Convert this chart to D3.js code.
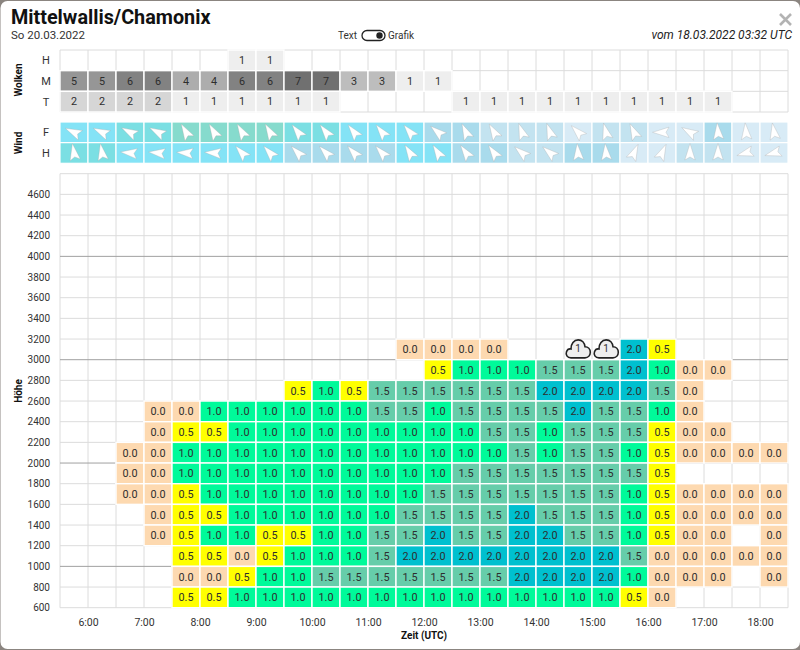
<!DOCTYPE html>
<html><head><meta charset="utf-8">
<script src="https://cdn.jsdelivr.net/npm/d3@7/dist/d3.min.js"></script>
<style>html,body{margin:0;padding:0;background:#8b8580;overflow:hidden}svg{display:block;font-family:Roboto,sans-serif}</style>
</head><body><svg id="c" width="800" height="650"></svg>
<script>
// ---- data ----
const hourTicks = [6,7,8,9,10,11,12,13,14,15,16,17,18];
const columnStarts = d3.range(26).map(i => 5.5 + i * 0.5);
const altitudeTicks = d3.range(600, 4601, 200);
const heavyAltitudes = [1000, 2000, 3000, 4000];

const cloudLevels = ["H", "M", "T"];
const cloudHigh = [0,0,0,0,0,0,1,1,0,0,0,0,0,0,0,0,0,0,0,0,0,0,0,0,0,0];
const cloudMid  = [5,5,6,6,4,4,6,6,7,7,3,3,1,1,0,0,0,0,0,0,0,0,0,0,0,0];
const cloudLow  = [2,2,2,2,1,1,1,1,1,1,0,0,0,0,1,1,1,1,1,1,1,1,1,1,0,0];

const windLevels = ["F", "H"];
const windDirF = [295,295,298,298,330,330,330,330,322,322,322,322,320,310,335,330,340,340,315,345,335,270,300,355,355,350];
const windDirH = [350,350,276,276,274,274,318,318,316,316,318,318,328,328,325,325,310,310,355,355,25,25,0,0,254,254];
const windClassF = [4,4,5,5,6,6,6,6,5,5,4,4,4,3,3,2,2,2,1,2,2,1,1,3,1,1];
const windClassH = [5,5,4,4,4,4,4,4,3,3,3,3,4,4,3,3,2,2,3,3,1,1,2,2,1,1];

// one row per altitude band (lower edge), one value per half-hour column, _ = no forecast
const _ = null;
const lift3000 = [_,_,_,_,_,_,_,_,_,_,_,_,0,0,0,0,_,_,"c","c",2,.5,_,_,_,_];
const lift2800 = [_,_,_,_,_,_,_,_,_,_,_,_,_,.5,1,1,1,1.5,1.5,1.5,2,1,0,0,_,_];
const lift2600 = [_,_,_,_,_,_,_,_,.5,1,.5,1.5,1.5,1.5,1.5,1.5,1.5,2,2,2,2,1.5,0,_,_,_];
const lift2400 = [_,_,_,0,0,1,1,1,1,1,1,1.5,1.5,1,1.5,1.5,1.5,1.5,2,1.5,1.5,1,0,_,_,_];
const lift2200 = [_,_,_,0,.5,.5,1,1,1,1,1,1,1,1,1,1.5,1.5,1,1.5,1.5,1.5,.5,0,0,_,_];
const lift2000 = [_,_,0,0,1,1,1,1,1,1,1,1,1,1,1,1,1.5,1,1.5,1.5,1,.5,0,0,0,0];
const lift1800 = [_,_,0,0,1,1,1,1,1,1,1,1,1,1,1.5,1.5,1.5,1.5,1.5,1.5,1.5,.5,_,_,_,_];
const lift1600 = [_,_,0,0,.5,1,1,1,1,1,1,1,1,1.5,1.5,1.5,1.5,1.5,1.5,1.5,1,.5,0,0,0,0];
const lift1400 = [_,_,_,0,.5,.5,1,1,1,1,1,1,1.5,1.5,1.5,1.5,2,1.5,1.5,1.5,1,.5,0,0,0,0];
const lift1200 = [_,_,_,0,.5,1,1,.5,.5,1,1,1.5,1.5,2,1.5,1.5,2,2,1.5,1.5,1,.5,0,0,_,0];
const lift1000 = [_,_,_,_,.5,.5,0,.5,1,1,1,1.5,2,2,2,2,2,2,2,2,1.5,0,0,0,0,0];
const lift800  = [_,_,_,_,0,0,.5,1,1,1.5,1.5,1.5,1.5,1.5,1.5,1.5,2,2,2,2,1,0,0,0,_,0];
const lift600  = [_,_,_,_,.5,.5,1,1,1,1,1,1,1,1,1,1,1,1,1,1,.5,0,_,_,_,_];
const liftBands = [3000,2800,2600,2400,2200,2000,1800,1600,1400,1200,1000,800,600];
const liftRows = [lift3000,lift2800,lift2600,lift2400,lift2200,lift2000,lift1800,lift1600,lift1400,lift1200,lift1000,lift800,lift600];
const cloudBaseCount = 1;

// ---- scales ----
const svg = d3.select("#c");
const x = d3.scaleLinear().domain([5.5, 18.5]).range([60, 788]);
const y = d3.scaleLinear().domain([600, 4800]).range([607.7, 173.7]);
const halfHour = x(6) - x(5.5);
const rowH = y(600) - y(800);
const yCloud = d3.scaleBand().domain(cloudLevels).range([50, 112]);
const yWind = d3.scaleBand().domain(windLevels).range([122, 163.3]);
const greys = d3.scaleOrdinal().domain([1,2,3,4,5,6,7]).range(["#eeeeee","#d6d6d6","#bdbdbd","#adadad","#969696","#828282","#707070"]);
const windColor = d3.scaleOrdinal().domain([1,2,3,4,5,6]).range(["#d8ebf6","#c3e3f0","#a9dbec","#84e3f6","#7bdfe3","#86dbcd"]);
const liftColor = d3.scaleOrdinal().domain([0,.5,1,1.5,2]).range(["#fdd9b0","#ffff00","#00fa9a","#66cdaa","#00c0cf"]);

// ---- modal ----
svg.append("rect").attr("x",0).attr("y",0).attr("width",800).attr("height",650).attr("fill","#8b8580");
svg.append("rect").attr("x",0.5).attr("y",1).attr("width",799.5).attr("height",648).attr("rx",7).attr("fill","#fff");

// ---- header ----
svg.append("text").attr("x",11).attr("y",24).attr("font-size",19.8).attr("font-weight",700).attr("fill","#111").text("Mittelwallis/Chamonix");
svg.append("text").attr("x",11).attr("y",39).attr("font-size",11.5).attr("fill","#333").text("So 20.03.2022");
svg.append("text").attr("x",338).attr("y",39).attr("font-size",10).attr("fill","#333").text("Text");
svg.append("text").attr("x",388).attr("y",39).attr("font-size",10).attr("fill","#333").text("Grafik");
svg.append("rect").attr("x",362).attr("y",30.5).attr("width",23).attr("height",10).attr("rx",5).attr("fill","#fff").attr("stroke","#222").attr("stroke-width",1.3);
svg.append("circle").attr("cx",379.5).attr("cy",35.5).attr("r",3.2).attr("fill","#222");
svg.append("text").attr("x",792).attr("y",39).attr("text-anchor","end").attr("font-size",12).attr("font-style","italic").attr("fill","#222").text("vom 18.03.2022 03:32 UTC");
svg.append("path").attr("d","M780 14L791 25M791 14L780 25").attr("stroke","#b3b3b3").attr("stroke-width",2.6).attr("fill","none");

// ---- grid helpers ----
function vGrid(top, bottom){
  svg.append("g").selectAll("line").data(d3.range(27)).join("line")
    .attr("x1",i=>x(5.5+i*.5)).attr("x2",i=>x(5.5+i*.5)).attr("y1",top).attr("y2",bottom)
    .attr("stroke","#dcdcdc").attr("stroke-width",1);
}
function cellLabel(g, xc, yc, t, fs){
  g.append("text").attr("x",xc).attr("y",yc+3.8).attr("text-anchor","middle").attr("font-size",fs||10.8).attr("fill","#2e2e2e").text(t);
}
function sideTitle(t, cx, cy){
  svg.append("text").attr("transform",`translate(${cx},${cy}) rotate(-90)`).attr("text-anchor","middle").attr("font-size",10).attr("font-weight",700).attr("fill","#111").text(t);
}

// ---- clouds ----
vGrid(50,112);
svg.append("g").selectAll("line").data(d3.range(4)).join("line")
  .attr("x1",60).attr("x2",788).attr("y1",i=>50+i*62/3).attr("y2",i=>50+i*62/3).attr("stroke","#dcdcdc");
const cloudG = svg.append("g");
[cloudHigh,cloudMid,cloudLow].forEach((arr,r)=>{
  arr.forEach((v,i)=>{
    if(!v) return;
    const x0=x(columnStarts[i]), y0=yCloud(cloudLevels[r]);
    cloudG.append("rect").attr("x",x0).attr("y",y0).attr("width",halfHour).attr("height",yCloud.bandwidth())
      .attr("fill",greys(v)).attr("stroke","#fff").attr("stroke-width",1.4);
    cellLabel(cloudG,x0+halfHour/2,y0+yCloud.bandwidth()/2,v);
  });
});
cloudLevels.forEach(l=>svg.append("text").attr("x",46).attr("y",yCloud(l)+yCloud.bandwidth()/2+4).attr("text-anchor","middle").attr("font-size",11).attr("fill","#333").text(l));
sideTitle("Wolken",22,80);

// ---- wind ----
const arrowPath = "M0 -9.5L5.2 7L0 4L-5.2 7Z";
const windG = svg.append("g");
[[windDirF,windClassF],[windDirH,windClassH]].forEach(([dir,cls],r)=>{
  dir.forEach((a,i)=>{
    const x0=x(columnStarts[i]), y0=yWind(windLevels[r]);
    windG.append("rect").attr("x",x0).attr("y",y0).attr("width",halfHour).attr("height",yWind.bandwidth()).attr("fill",windColor(cls[i])).attr("stroke","#fff").attr("stroke-width",1.2);
    windG.append("path").attr("d",arrowPath).attr("transform",`translate(${x0+halfHour/2},${y0+yWind.bandwidth()/2}) rotate(${a})`)
      .attr("fill","#fff").attr("stroke","#a8a8a8").attr("stroke-width",.3);
  });
});
windLevels.forEach(l=>svg.append("text").attr("x",46).attr("y",yWind(l)+yWind.bandwidth()/2+4).attr("text-anchor","middle").attr("font-size",11).attr("fill","#333").text(l));
sideTitle("Wind",22,143);

// ---- altitude chart ----
vGrid(173.7,607.7);
const yAxis = d3.axisLeft(y).tickValues(altitudeTicks).tickSize(0).tickPadding(10).tickFormat(d3.format("d"));
const yg = svg.append("g").attr("transform","translate(60,0)").call(yAxis);
yg.select(".domain").remove();
yg.selectAll("text").attr("font-size",10).attr("font-family","Roboto,sans-serif").attr("fill","#333");
svg.append("g").selectAll("line").data(d3.range(600,4801,200)).join("line")
  .attr("x1",60).attr("x2",788).attr("y1",d=>y(d)).attr("y2",d=>y(d))
  .attr("stroke",d=>heavyAltitudes.includes(d)?"#a0a0a0":"#dcdcdc").attr("stroke-width",1);

const xAxis = d3.axisBottom(x).tickValues(hourTicks).tickSize(0).tickPadding(11).tickFormat(d=>d+":00");
const xg = svg.append("g").attr("transform","translate(0,607.7)").call(xAxis);
xg.select(".domain").remove();
xg.selectAll("text").attr("font-size",10.5).attr("font-family","Roboto,sans-serif").attr("fill","#333");

const cellG = svg.append("g");
liftRows.forEach((row,r)=>{
  row.forEach((v,i)=>{
    if(v===null||v==="c") return;
    const x0=x(columnStarts[i]), y1=y(liftBands[r]);
    cellG.append("rect").attr("x",x0).attr("y",y1-rowH).attr("width",halfHour).attr("height",rowH)
      .attr("fill",liftColor(v)).attr("stroke","#fff").attr("stroke-width",1.4);
    cellLabel(cellG,x0+halfHour/2,y1-rowH/2,d3.format(".1f")(v));
  });
});
// cloud base markers
const cloudIcon="M-7 8.5C-11 8.5 -12.5 5.2 -11.5 2.4C-10.7 .2 -8.8 -.8 -7 -.4C-7.2 -5.6 -4 -9.5 .2 -9.5C4 -9.5 6.6 -6.6 7 -2.6C10 -2.6 12.3 -.2 12.3 3C12.3 6.2 10 8.5 7 8.5Z";
liftRows.forEach((row,r)=>{
  row.forEach((v,i)=>{
    if(v!=="c") return;
    const xc=x(columnStarts[i])+halfHour/2, yc=y(liftBands[r])-rowH/2;
    cellG.append("path").attr("d",cloudIcon).attr("transform",`translate(${xc},${yc})`).attr("fill","#eeeeee").attr("stroke","#222").attr("stroke-width",1.6);
    cellLabel(cellG,xc,yc-1.5,cloudBaseCount,10);
  });
});

sideTitle("Höhe",22,391);
svg.append("text").attr("x",424).attr("y",639).attr("text-anchor","middle").attr("font-size",10).attr("font-weight",700).attr("fill","#111").text("Zeit (UTC)");
</script></body></html>
